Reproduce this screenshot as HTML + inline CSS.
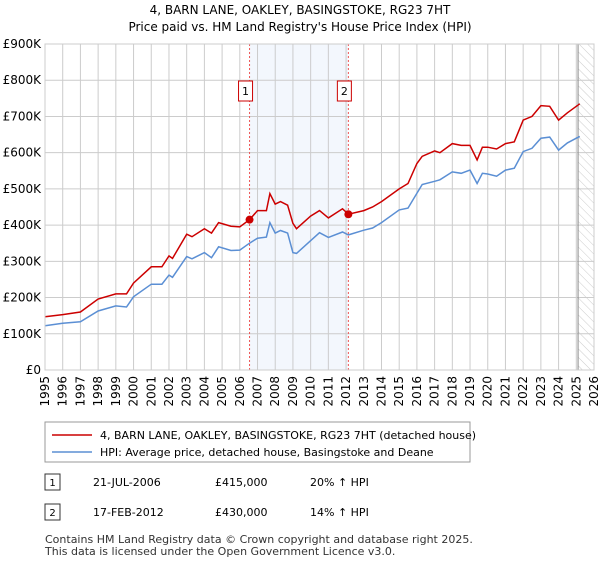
<!DOCTYPE html>
<html><head><meta charset="utf-8"><style>
body{margin:0;background:#fff;font-family:"Liberation Sans","DejaVu Sans",sans-serif;}
svg text{font-family:"DejaVu Sans","Liberation Sans",sans-serif;}
</style></head><body>
<svg id="c" width="600" height="560" viewBox="0 0 600 560">
<defs><pattern id="hatch" width="6" height="6" patternUnits="userSpaceOnUse" patternTransform="rotate(-45)"><line x1="0" y1="0" x2="0" y2="6" stroke="#ccc" stroke-width="1"/></pattern></defs>
<text x="300" y="14" text-anchor="middle" font-size="12">4, BARN LANE, OAKLEY, BASINGSTOKE, RG23 7HT</text>
<text x="300" y="31" text-anchor="middle" font-size="12">Price paid vs. HM Land Registry's House Price Index (HPI)</text>
<g id="plot"></g>
<rect x="45" y="422" width="425" height="40" fill="#fff" stroke="#999"/>
<line x1="52" y1="435" x2="92" y2="435" stroke="#cc0000" stroke-width="1.5"/>
<text x="100" y="439" font-size="11">4, BARN LANE, OAKLEY, BASINGSTOKE, RG23 7HT (detached house)</text>
<line x1="52" y1="452" x2="92" y2="452" stroke="#5b8fd4" stroke-width="1.5"/>
<text x="100" y="456" font-size="11">HPI: Average price, detached house, Basingstoke and Deane</text>
<g>
<rect x="45" y="474" width="15" height="16" fill="#fff" stroke="#333"/><text x="52.5" y="486" font-size="10" text-anchor="middle">1</text>
<text x="93" y="486" font-size="11">21-JUL-2006</text><text x="215" y="486" font-size="11">£415,000</text><text x="310" y="486" font-size="11">20% ↑ HPI</text></g>
<g>
<rect x="45" y="504" width="15" height="16" fill="#fff" stroke="#333"/><text x="52.5" y="516" font-size="10" text-anchor="middle">2</text>
<text x="93" y="516" font-size="11">17-FEB-2012</text><text x="215" y="516" font-size="11">£430,000</text><text x="310" y="516" font-size="11">14% ↑ HPI</text></g>
<text x="45" y="543" font-size="11" fill="#333">Contains HM Land Registry data © Crown copyright and database right 2025.</text>
<text x="45" y="555" font-size="11" fill="#333">This data is licensed under the Open Government Licence v3.0.</text>
</svg>
<script>
const hpiYears=[1995,1996,1997,1998,1999,1999.6,2000,2001,2001.6,2002,2002.2,2003,2003.3,2004,2004.4,2004.8,2005.5,2006,2006.55,2007,2007.5,2007.7,2008,2008.3,2008.7,2009,2009.2,2010,2010.5,2011,2011.8,2012.13,2013,2013.5,2014,2015,2015.5,2016,2016.3,2017,2017.3,2018,2018.5,2019,2019.4,2019.7,2020,2020.5,2021,2021.5,2022,2022.5,2023,2023.5,2024,2024.5,2025,2025.2];
const hpiValues=[122,129,133,163,177,174,202,237,237,262,256,313,307,324,310,340,330,331,350,364,367,407,378,385,378,324,322,357,379,366,381,373,386,392,407,442,447,488,512,521,525,547,543,552,515,543,541,535,552,557,603,612,640,643,607,627,640,645];
const priceValues=[147,153,160,196,210,210,240,285,285,315,308,375,368,390,378,407,397,395,415,440,440,487,458,465,455,405,390,425,440,420,445,430,440,450,465,500,515,570,590,605,600,625,620,620,580,615,615,610,625,630,690,700,730,728,690,710,728,735];
const saleYears=[2006.55,2012.13];
const salePrices=[415,430];
const saleLabels=["1","2"];
const yTicks=[0,100,200,300,400,500,600,700,800,900];
const yTickLabels=["£0","£100K","£200K","£300K","£400K","£500K","£600K","£700K","£800K","£900K"];
const xTicks=[1995,1996,1997,1998,1999,2000,2001,2002,2003,2004,2005,2006,2007,2008,2009,2010,2011,2012,2013,2014,2015,2016,2017,2018,2019,2020,2021,2022,2023,2024,2025,2026];
const X0=45,X1=594,Y0=370,Y1=44;
const xs=y=>X0+(y-1995)/31*(X1-X0);
const ys=v=>Y0-v/900*(Y0-Y1);
const NS="http://www.w3.org/2000/svg";
const g=document.getElementById('plot');
function mk(t,a,p){const e=document.createElementNS(NS,t);for(const k in a)e.setAttribute(k,a[k]);(p||g).appendChild(e);return e;}
let e=mk('rect',{x:xs(saleYears[0]),y:Y1,width:xs(saleYears[1])-xs(saleYears[0]),height:Y0-Y1,fill:'#eef3fc',opacity:0.7});


e=mk('rect',{x:xs(2025.1),y:Y1,width:X1-xs(2025.1),height:Y0-Y1,fill:'url(#hatch)'});


yTicks.forEach((v,i)=>{
 e=mk('line',{x1:X0,x2:X1,y1:ys(v),y2:ys(v),stroke:'#ccc'});
 
 
 e=mk('text',{x:X0-4,y:ys(v)+4,'text-anchor':'end','font-size':12});e.textContent=yTickLabels[i];
 
 
});
xTicks.forEach(y=>{
 e=mk('line',{x1:xs(y),x2:xs(y),y1:Y1,y2:Y0,stroke:'#ccc'});
 
 
 e=mk('text',{x:0,y:0,'font-size':12,'text-anchor':'end',transform:`translate(${xs(y)+4},${Y0+6}) rotate(-90)`});e.textContent=y;
 
 
});
e=mk('line',{x1:xs(2025.1),x2:xs(2025.1),y1:Y1,y2:Y0,stroke:'#888'});


function path(vals){return hpiYears.map((y,i)=>(i?'L':'M')+xs(y).toFixed(1)+','+ys(vals[i]).toFixed(1)).join('');}
e=mk('path',{d:path(hpiValues),fill:'none',stroke:'#5b8fd4','stroke-width':1.5});


e=mk('path',{d:path(priceValues),fill:'none',stroke:'#cc0000','stroke-width':1.5});


saleYears.forEach((y,i)=>{
 e=mk('line',{x1:xs(y),x2:xs(y),y1:Y1,y2:Y0,stroke:'#e55','stroke-dasharray':'2,2'});
 
 
 e=mk('circle',{cx:xs(y),cy:ys(salePrices[i]),r:4,fill:'#cc0000'});
 
 
 e=mk('rect',{x:xs(y)-11,y:81,width:14,height:20,fill:'#fff',stroke:'#cc0000'});
 
 
 e=mk('text',{x:xs(y)-4,y:95,'text-anchor':'middle','font-size':11});e.textContent=saleLabels[i];
 
 
});
e=mk('rect',{x:X0,y:Y1,width:X1-X0,height:Y0-Y1,fill:'none',stroke:'#ccc'});


</script>
</body></html>
